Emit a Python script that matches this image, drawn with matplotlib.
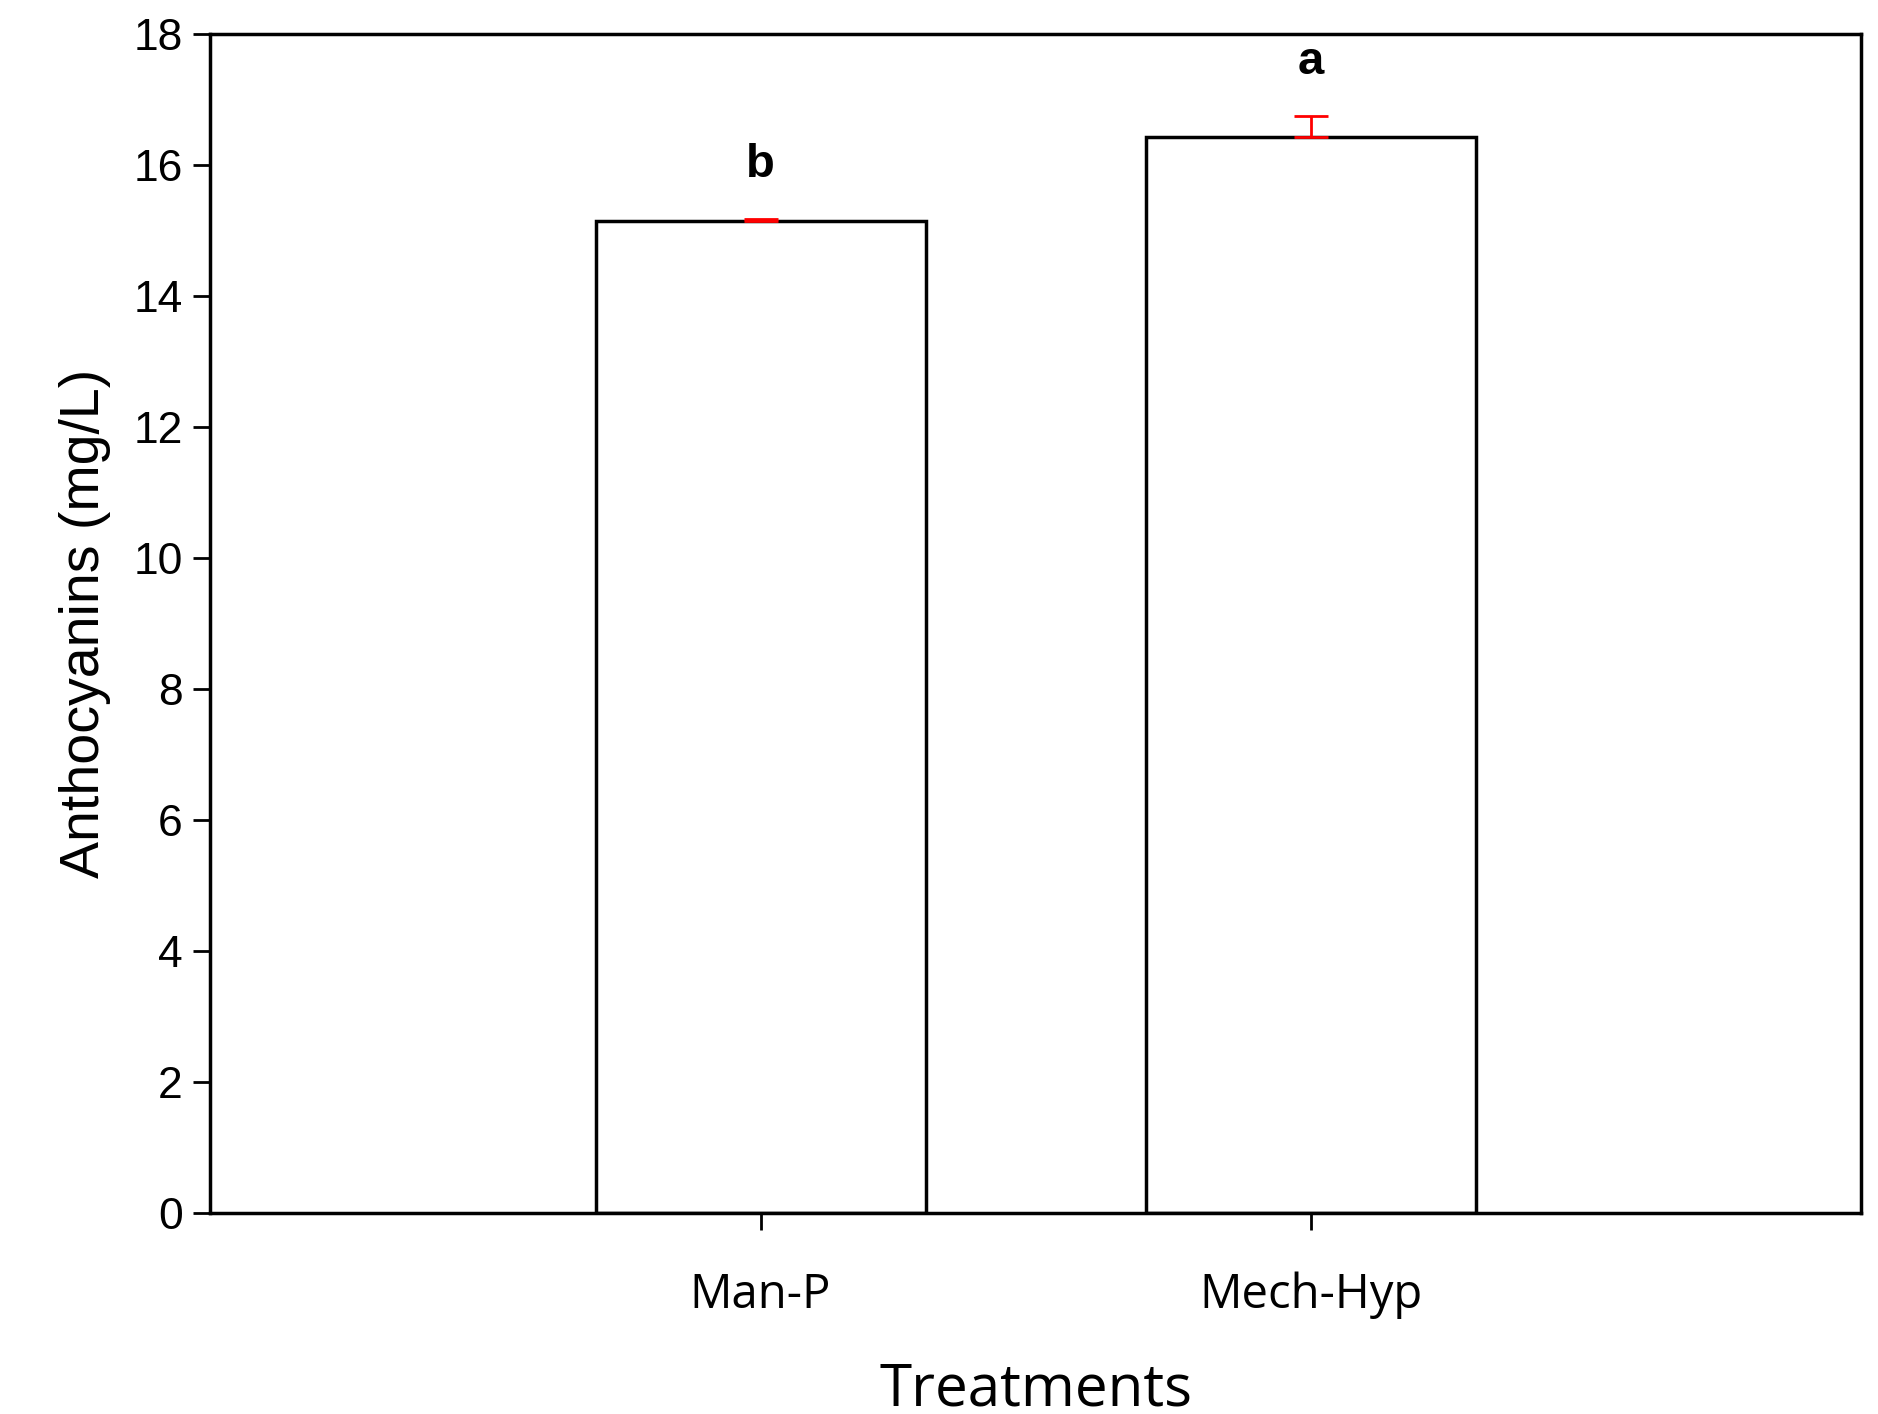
import matplotlib
matplotlib.use("Agg")
import matplotlib.pyplot as plt

categories = ["Man-P", "Mech-Hyp"]
values = [15.15, 16.42]
errors = [0.02, 0.32]
letters = ["b", "a"]
yticks = [0, 2, 4, 6, 8, 10, 12, 14, 16, 18]

fig = plt.figure(figsize=(18.78, 14.14), dpi=100)
ax = fig.add_axes([0.112, 0.142, 0.879, 0.834])
pos = [1, 2]
ax.bar(pos, values, width=0.6, color="white", edgecolor="black", linewidth=2.5, zorder=2)
ax.errorbar(pos, values, yerr=[[0, 0], errors], fmt="none", ecolor="red",
            elinewidth=2, capsize=12, capthick=2, zorder=3)
for p, v, e, l in zip(pos, values, errors, letters):
    ax.text(p, v + e + 0.5, l, ha="center", va="bottom", fontsize=34,
            fontweight="bold", family="Liberation Sans")
ax.set_xlim(0, 3)
ax.set_ylim(0, 18)
ax.set_yticks(yticks)
ax.set_yticklabels([str(t) for t in yticks], fontsize=32, family="Liberation Sans")
ax.set_xticks(pos)
ax.set_xticklabels(categories, fontsize=34, family="Open Sans")
ax.tick_params(axis="both", direction="out", length=12, width=2)
ax.tick_params(axis="y", pad=8)
ax.tick_params(axis="x", pad=30)
for s in ax.spines.values():
    s.set_linewidth(2.5)
ax.set_ylabel("Anthocyanins (mg/L)", fontsize=40, family="Liberation Sans", labelpad=16)
ax.set_xlabel("Treatments", fontsize=42, family="Open Sans", labelpad=30)
fig.savefig("out.png", dpi=100)
